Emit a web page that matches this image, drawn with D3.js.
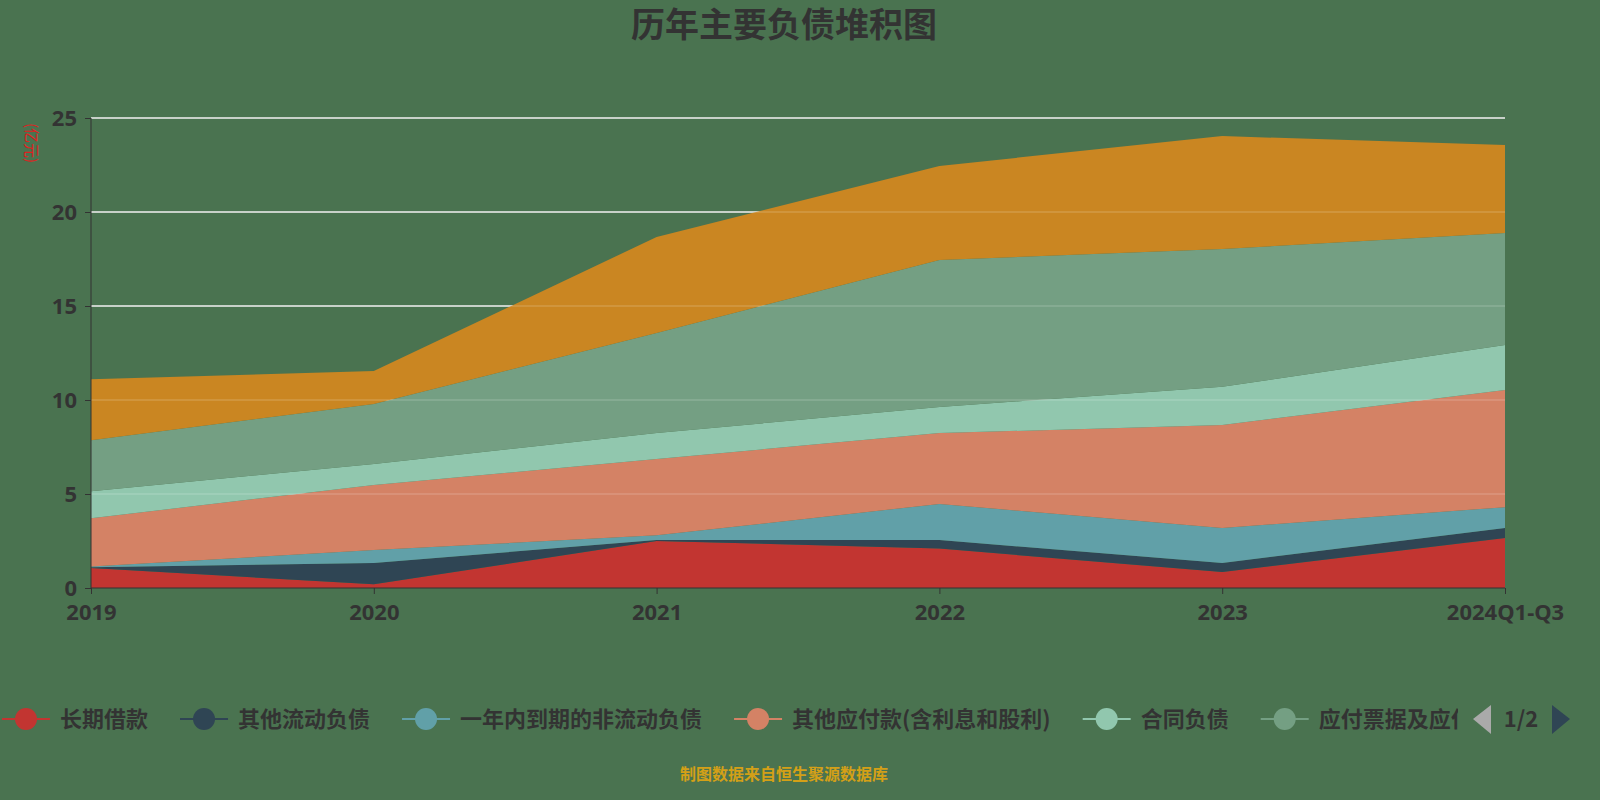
<!DOCTYPE html><html><head><meta charset="utf-8"><script src="https://cdn.jsdelivr.net/npm/d3@7"></script>
<style>body{margin:0;background:#4a7350}svg{font-family:"Noto Sans CJK SC","Noto Sans",sans-serif}</style></head><body><svg id="c" width="1600" height="800"></svg>
<script>
const categories=["2019","2020","2021","2022","2023","2024Q1-Q3"];
const seriesNames=["长期借款","其他流动负债","一年内到期的非流动负债","其他应付款(含利息和股利)","合同负债","应付票据及应付账款","短期借款"];
const s0=[1.06,0.2,2.5,2.1,0.85,2.66];
const s1=[0.04,1.13,0.05,0.45,0.48,0.53];
const s2=[0.04,0.69,0.25,1.92,1.86,1.11];
const s3=[2.57,3.46,4.06,3.77,5.48,6.23];
const s4=[1.43,1.12,1.38,1.39,2.03,2.4];
const s5=[2.72,3.19,5.32,7.82,7.33,5.95];
const s6=[3.24,1.75,5.11,5.0,6.01,4.68];
const yTicks=[0,5,10,15,20,25];
const colors=["#c23531","#2f4554","#61a0a8","#d48265","#91c7ae","#749f83","#ca8622"];
const series=[s0,s1,s2,s3,s4,s5,s6];
const svg=d3.select("#c");
const x=d3.scalePoint().domain(categories).range([91,1505]);
const y=d3.scaleLinear().domain([0,25]).range([588,118]);
const rows=categories.map((c,i)=>{const r={c};series.forEach((s,j)=>r["k"+j]=s[i]);return r;});
const stack=d3.stack().keys(series.map((s,j)=>"k"+j))(rows);
svg.append("g").selectAll("line").data(yTicks.slice(1)).join("line").attr("x1",91).attr("x2",1505).attr("y1",d=>y(d)).attr("y2",d=>y(d)).attr("stroke","#e8e8e8").attr("stroke-width",1.5);
const area=d3.area().x(d=>x(d.data.c)).y0(d=>y(d[0])).y1(d=>y(d[1]));
svg.append("g").selectAll("path").data(stack).join("path").attr("d",area).attr("fill",(d,i)=>colors[i]);
svg.append("g").selectAll("line").data(yTicks.slice(1)).join("line").attr("x1",91).attr("x2",1505).attr("y1",d=>y(d)).attr("y2",d=>y(d)).attr("stroke","#fff").attr("stroke-opacity",0.25);
const ya=svg.append("g").attr("transform","translate(91,0)").call(d3.axisLeft(y).tickValues(yTicks).tickSize(6).tickPadding(8));
const xa=svg.append("g").attr("transform","translate(0,588)").call(d3.axisBottom(x).tickSize(6).tickPadding(10));
[ya,xa].forEach(a=>{a.selectAll("path,line").attr("stroke","#333");a.selectAll("text").attr("fill","#333").style("font-size","22px").style("font-weight","bold").style("font-family","Noto Sans, sans-serif");});
xa.select(".domain").attr("d","M91,0H1505");ya.select(".domain").attr("d","M0,118V588").attr("stroke","#333");
svg.append("text").attr("x",784).attr("y",37).attr("text-anchor","middle").attr("fill","#333").style("font-size","34px").style("font-weight","bold").text("历年主要负债堆积图");
svg.append("text").attr("transform","translate(26,143) rotate(90)").attr("text-anchor","middle").attr("fill","#e02020").style("font-size","15px").text("(亿元)");
svg.append("defs").append("clipPath").attr("id","lc").append("rect").attr("x",0).attr("y",690).attr("width",1458).attr("height",60);
const lg=svg.append("g").attr("clip-path","url(#lc)");
let lx=2;
seriesNames.forEach((n,i)=>{
 const g=lg.append("g").attr("transform",`translate(${lx},719)`);
 g.append("line").attr("x1",0).attr("x2",48).attr("stroke",colors[i]).attr("stroke-width",2);
 g.append("circle").attr("cx",24).attr("r",11).attr("fill",colors[i]);
 const t=g.append("text").attr("x",58).attr("y",8).attr("fill","#333").style("font-size","22px").style("font-weight","bold").text(n);
 lx+=58+t.node().getComputedTextLength()+32;
});
svg.append("path").attr("d","M1491,705L1473,719L1491,734Z").attr("fill","#aaa");
svg.append("text").attr("x",1521).attr("y",727).attr("text-anchor","middle").attr("fill","#333").style("font-size","22px").style("font-weight","bold").text("1/2");
svg.append("path").attr("d","M1552,705L1570,719L1552,734Z").attr("fill","#2f4554");
svg.append("text").attr("x",784).attr("y",780).attr("text-anchor","middle").attr("fill","#d4a017").style("font-size","16px").style("font-weight","bold").text("制图数据来自恒生聚源数据库");
</script></body></html>
